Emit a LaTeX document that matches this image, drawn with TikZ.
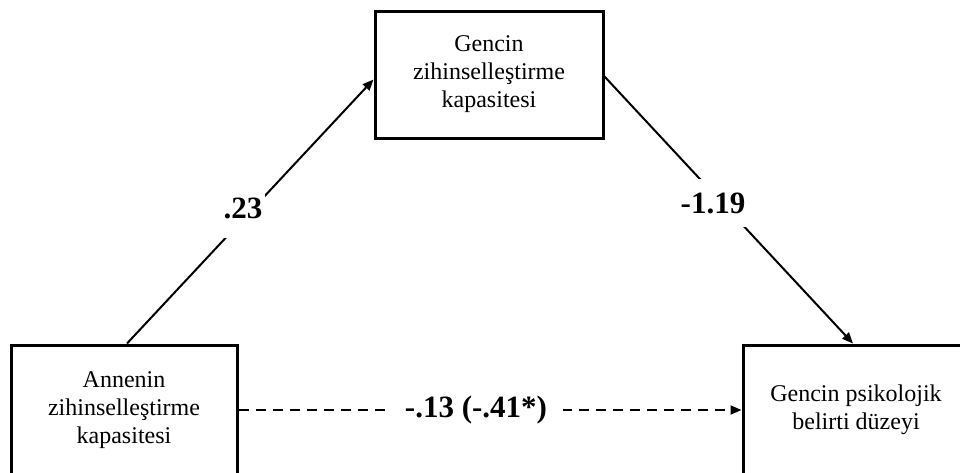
\documentclass[tikz,border=0pt]{standalone}
\usepackage{fontspec}
\setmainfont{Liberation Serif}
\usetikzlibrary{arrows.meta,calc}
\begin{document}
\begin{tikzpicture}[x=1pt,y=-1pt,
  box/.style={draw=black,line width=3pt,fill=white,minimum width=#1,inner sep=0pt,
    font=\fontsize{24}{28}\selectfont,align=center},
  conn/.style={line width=2pt,-{Triangle[length=11pt,width=9pt]}},
  coef/.style={fill=white,font=\fontsize{31}{34}\selectfont\bfseries,inner sep=0pt}]
\useasboundingbox[fill=white] (0,0) rectangle (960,472);
\clip (0,0) rectangle (960,472);
\node[box=228pt,minimum height=127pt] (top) at (489,74.5) {Gencin\\zihinselleştirme\\kapasitesi};
\node[box=226pt,minimum height=130pt] (left) at (124,410) {Annenin\\zihinselleştirme\\kapasitesi};
\node[box=226pt,minimum height=130pt] (right) at (856,410) {Gencin psikolojik\\belirti düzeyi};
\draw[conn] ([xshift=3pt]left.north) -- ([yshift=-5pt]top.west);
\draw[conn] ([yshift=-2pt]top.east) -- ([xshift=-3pt]right.north);
\draw[conn,dash pattern=on 10pt off 7pt] (left.east) -- (right.west);
\node[coef,inner xsep=3pt,inner ysep=20pt] (c1) at (243,208) {.23};
\node[coef,inner xsep=4pt,inner ysep=14pt] (c2) at (713,203) {-1.19};
\node[coef,inner xsep=16pt,inner ysep=4pt] (c3) at (476,410) {-.13 (-.41*)};
\end{tikzpicture}
\end{document}
